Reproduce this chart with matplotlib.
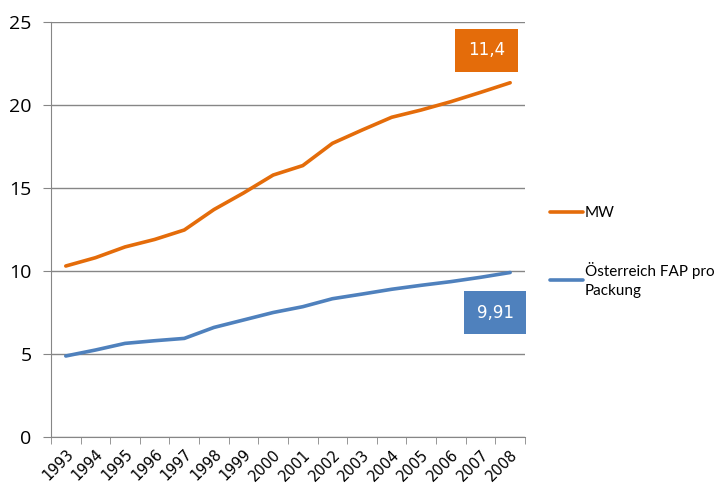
import numpy as np
import matplotlib.pyplot as plt
import matplotlib.transforms as mtransforms
from matplotlib.ticker import FixedLocator

# data
years = [str(y) for y in range(1993, 2009)]
mw = [10.3, 10.8, 11.45, 11.9, 12.47, 13.7, 14.7, 15.78, 16.35, 17.69,
      18.49, 19.26, 19.7, 20.2, 20.76, 21.34]
oesterreich = [4.88, 5.24, 5.64, 5.8, 5.94, 6.6, 7.05, 7.5, 7.85, 8.33,
               8.61, 8.9, 9.14, 9.36, 9.62, 9.91]
label_mw = "11,4"
label_oe = "9,91"

orange = "#E46C0A"
blue = "#4F81BD"
grey = "#868686"

fig = plt.figure(figsize=(7.24, 4.83), dpi=100)
ax = fig.add_axes([0.0704, 0.0952, 0.6547, 0.8593])

x = np.arange(len(years))
ax.plot(x, mw, color=orange, lw=2.6, solid_capstyle="round", label="MW")
ax.plot(x, oesterreich, color=blue, lw=2.6, solid_capstyle="round",
        label="Österreich FAP pro\nPackung")

ax.set_xlim(-0.5, len(years) - 0.5)
ax.set_ylim(0, 25)
ax.set_yticks([0, 5, 10, 15, 20, 25])
ax.set_yticklabels(["0", "5", "10", "15", "20", "25"], family="Open Sans",
                   fontsize=14)
ax.yaxis.grid(True, color=grey, lw=1)
ax.set_axisbelow(True)

ax.set_xticks(x)
ax.set_xticklabels(years, rotation=45, ha="right", rotation_mode="anchor",
                   fontsize=10.5, family="DejaVu Sans")
# nudge the rotated year labels a bit left, like the original
shift = mtransforms.ScaledTranslation(-0.05, 0, fig.dpi_scale_trans)
for lbl in ax.get_xticklabels():
    lbl.set_transform(lbl.get_transform() + shift)
ax.xaxis.set_minor_locator(FixedLocator(np.arange(-0.5, len(years), 1.0)))
ax.tick_params(axis="x", which="major", length=0, pad=7)
ax.tick_params(axis="x", which="minor", length=5, color=grey)
ax.tick_params(axis="y", length=6, color=grey, pad=8)

for s in ["top", "right"]:
    ax.spines[s].set_visible(False)
for s in ["left", "bottom"]:
    ax.spines[s].set_color(grey)

# value labels
ax.text(14.2, 23.3, label_mw, color="white", fontsize=12, ha="center",
        va="center", bbox=dict(boxstyle="square,pad=0.75", fc=orange, ec="none"))
ax.text(14.5, 7.5, label_oe, color="white", fontsize=12, ha="center",
        va="center", bbox=dict(boxstyle="square,pad=0.75", fc=blue, ec="none"))

leg = fig.legend(loc="center left", bbox_to_anchor=(0.74, 0.478), frameon=False,
                 handlelength=2.2, handletextpad=0.1, labelspacing=2.7,
                 prop={"family": "Lato", "size": 11})
for t in leg.get_texts():
    t.set_linespacing(1.5)

fig.savefig("out.png", dpi=100)
